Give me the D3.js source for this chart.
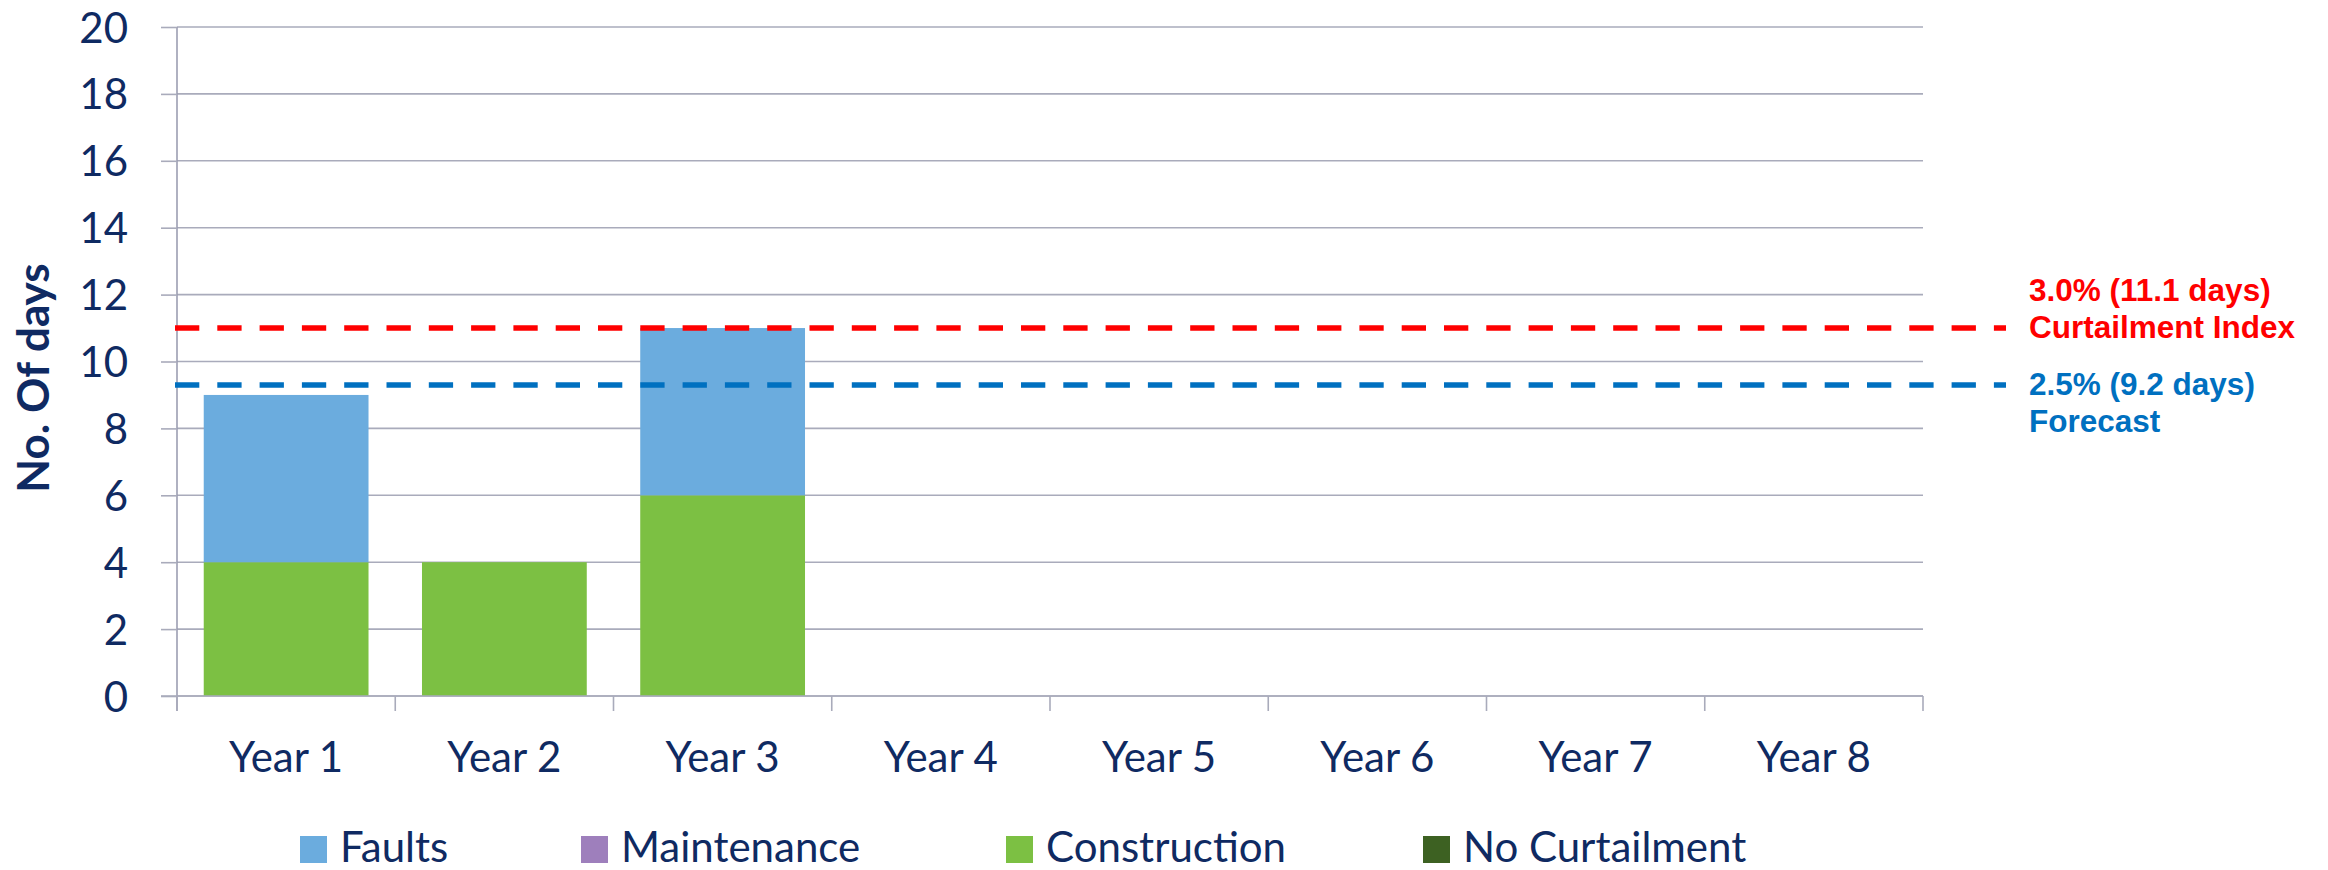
<!DOCTYPE html>
<html>
<head>
<meta charset="utf-8">
<script src="https://cdn.jsdelivr.net/npm/d3@7"></script>
<style>
  html, body { margin: 0; padding: 0; background: #ffffff; }
  svg { display: block; }
</style>
</head>
<body>
<svg id="chart" width="2328" height="870"></svg>
<script>
// ---- data ----
const categories = ["Year 1", "Year 2", "Year 3", "Year 4", "Year 5", "Year 6", "Year 7", "Year 8"];
const faults = [5, 0, 5, 0, 0, 0, 0, 0];
const maintenance = [0, 0, 0, 0, 0, 0, 0, 0];
const construction = [4, 4, 6, 0, 0, 0, 0, 0];
const noCurtailment = [0, 0, 0, 0, 0, 0, 0, 0];
const yTicks = [0, 2, 4, 6, 8, 10, 12, 14, 16, 18, 20];
const seriesNames = ["Faults", "Maintenance", "Construction", "No Curtailment"];
const thresholdValues = [11.0, 9.3];
const thresholdLabels = [["3.0% (11.1 days)", "Curtailment Index"], ["2.5% (9.2 days)", "Forecast"]];
const yTitle = "No. Of days";

// ---- styles / layout ----
const navy = "#0F2A62";
const gridColor = "#A9ABBB";
const seriesColors = { "Faults": "#6BACDE", "Maintenance": "#9E7FBC", "Construction": "#7CC043", "No Curtailment": "#3D6122" };
const thresholdColors = ["#FF0000", "#0070C0"];
const thresholdLabelOffsets = [-27, 10.5];
const legendX = [300, 581, 1006, 1423];

const svg = d3.select("#chart");
const plotLeft = 177, plotRight = 1923, plotTop = 27, plotBottom = 696;

const x = d3.scaleBand().domain(categories).range([plotLeft, plotRight]).paddingInner(0.245).paddingOuter(0.1225);
const y = d3.scaleLinear().domain([0, 20]).range([plotBottom, plotTop]);

// table for stacking (bottom to top)
const table = categories.map((c, i) => ({
  cat: c,
  "Construction": construction[i],
  "No Curtailment": noCurtailment[i],
  "Maintenance": maintenance[i],
  "Faults": faults[i]
}));
const stackKeys = ["Construction", "No Curtailment", "Maintenance", "Faults"];
const stacked = d3.stack().keys(stackKeys)(table);

// gridlines
svg.append("g")
  .selectAll("line")
  .data(yTicks)
  .join("line")
  .attr("x1", plotLeft).attr("x2", plotRight)
  .attr("y1", d => y(d)).attr("y2", d => y(d))
  .attr("stroke", gridColor).attr("stroke-width", 1.6);

// y axis
const yAxis = svg.append("g")
  .attr("transform", `translate(${plotLeft},0)`)
  .call(d3.axisLeft(y).tickValues(yTicks).tickSize(16).tickPadding(33).tickFormat(d3.format("d")));
yAxis.select(".domain").attr("stroke", "#9C9EB2").attr("stroke-width", 1.6)
  .attr("d", `M0,${plotTop}V${plotBottom + 15}`);
yAxis.selectAll(".tick line").attr("stroke", gridColor).attr("stroke-width", 1.6);
yAxis.selectAll(".tick text")
  .attr("fill", navy)
  .attr("font-family", "Lato, 'Open Sans', sans-serif")
  .attr("font-size", 42)
  .attr("dy", "0.357em");

// bars
svg.append("g")
  .selectAll("g")
  .data(stacked)
  .join("g")
  .attr("fill", d => seriesColors[d.key])
  .selectAll("rect")
  .data(d => d)
  .join("rect")
  .attr("x", d => x(d.data.cat))
  .attr("width", x.bandwidth())
  .attr("y", d => y(d[1]))
  .attr("height", d => y(d[0]) - y(d[1]));

// x axis
const xAxis = svg.append("g")
  .attr("transform", `translate(0,${plotBottom})`)
  .call(d3.axisBottom(x).tickSize(0).tickPadding(0));
xAxis.select(".domain").attr("stroke", gridColor).attr("stroke-width", 1.6)
  .attr("d", `M${plotLeft - 16},0H${plotRight}`);
xAxis.selectAll(".tick text")
  .attr("fill", navy)
  .attr("font-family", "Lato, 'Open Sans', sans-serif")
  .attr("font-size", 42)
  .attr("y", 76)
  .attr("dy", 0);
// boundary ticks
const boundaries = categories.map(c => x(c) - x.step() * x.paddingInner() / 2).concat([plotRight]);
svg.append("g")
  .selectAll("line")
  .data(boundaries)
  .join("line")
  .attr("x1", d => d).attr("x2", d => d)
  .attr("y1", plotBottom).attr("y2", plotBottom + 15)
  .attr("stroke", gridColor).attr("stroke-width", 1.6);

// threshold lines
thresholdValues.forEach((v, i) => {
  svg.append("line")
    .attr("x1", plotLeft - 2).attr("x2", 2006)
    .attr("y1", y(v)).attr("y2", y(v))
    .attr("stroke", thresholdColors[i])
    .attr("stroke-width", 5.5)
    .attr("stroke-dasharray", "24.3,18");
  const t = svg.append("text")
    .attr("x", 2029)
    .attr("y", y(v) + thresholdLabelOffsets[i])
    .attr("fill", thresholdColors[i])
    .attr("font-family", "'Liberation Sans', Arial, sans-serif")
    .attr("font-weight", "bold")
    .attr("font-size", 31.5);
  thresholdLabels[i].forEach((s, j) => {
    t.append("tspan").attr("x", 2029).attr("dy", j === 0 ? 0 : 37).text(s);
  });
});

// y title
svg.append("text")
  .attr("transform", `translate(49,378) rotate(-90)`)
  .attr("text-anchor", "middle")
  .attr("fill", navy)
  .attr("font-family", "Lato, 'Open Sans', sans-serif")
  .attr("font-weight", "bold")
  .attr("font-size", 44)
  .text(yTitle);

// legend
const legend = svg.append("g");
seriesNames.forEach((name, i) => {
  const lx = legendX[i];
  legend.append("rect")
    .attr("x", lx).attr("y", 836)
    .attr("width", 27).attr("height", 27)
    .attr("fill", seriesColors[name]);
  legend.append("text")
    .attr("x", lx + 40).attr("y", 862)
    .attr("fill", navy)
    .attr("font-family", "Lato, 'Open Sans', sans-serif")
    .attr("font-size", 42)
    .text(name);
});
</script>
</body>
</html>
